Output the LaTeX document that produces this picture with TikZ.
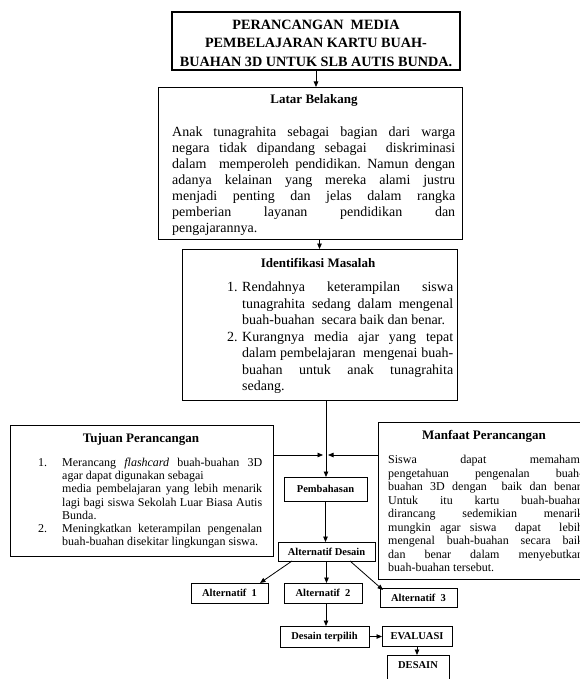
\documentclass[tikz,border=0pt]{standalone}
\usepackage{fontspec}
\setmainfont{Liberation Serif}
\usetikzlibrary{arrows.meta}
\frenchspacing
\newcommand\jset{\tolerance=10000\pretolerance=-1\hbadness=10000\hyphenpenalty=10000\exhyphenpenalty=10000\frenchspacing\parindent=0pt\parskip=0pt}
\newcommand\bodybig{\fontsize{14}{16}\selectfont\jset}
\newcommand\bodyid{\fontsize{14}{16.5}\selectfont\jset}
\newcommand\bodysmall{\fontsize{12}{13.2}\selectfont\jset}
\newcommand\bodyman{\fontsize{12}{13.5}\selectfont\jset}
\tikzset{
  box/.style={draw, line width=0.8pt, inner sep=0pt, outer sep=0pt},
  txt/.style={inner sep=0pt, anchor=north west, align=justify},
  num/.style={inner sep=0pt, anchor=north west},
  head/.style={inner sep=0pt, font=\fontsize{13}{15}\selectfont\bfseries},
  lbl/.style={inner sep=0pt, font=\fontsize{10.5}{12}\selectfont\bfseries},
  arr/.style={-{Triangle[length=5.5pt,width=4.5pt]}, line width=0.8pt}
}
\begin{document}
\begin{tikzpicture}[x=1pt,y=-1pt]
\useasboundingbox (0,0) rectangle (579,679);
\fill[white] (0,0) rectangle (579,679);

% boxes
\node[box, line width=1.1pt, minimum width=288pt, minimum height=58pt] (title) at (316,41) {};
\node[box, minimum width=304pt, minimum height=152pt] (latar) at (310,163) {};
\node[box, minimum width=275pt, minimum height=151pt] (ident) at (319.5,324.5) {};
\node[box, minimum width=263pt, minimum height=131pt] (tujuan) at (141.5,490.5) {};
\node[box, minimum width=222pt, minimum height=157pt] (manfaat) at (489,500.5) {};
\node[box, minimum width=83pt, minimum height=24pt] (pemb) at (325.5,489) {};
\node[box, minimum width=97pt, minimum height=19pt] (altd) at (326.5,551.5) {};
\node[box, minimum width=77pt, minimum height=20pt] (alt1) at (229.5,593) {};
\node[box, minimum width=78pt, minimum height=20pt] (alt2) at (323,593) {};
\node[box, minimum width=77pt, minimum height=19pt] (alt3) at (418.5,597.5) {};
\node[box, minimum width=89pt, minimum height=21pt] (dt) at (324.5,636.5) {};
\node[box, minimum width=70pt, minimum height=20pt] (eval) at (417,636) {};
\node[box, minimum width=62pt, minimum height=35pt] (desain) at (418,672.5) {};

% title text
\node[inner sep=0pt, align=center, font=\fontsize{14.2}{18.5}\selectfont\bfseries] (titletxt) at (316,43)
  {PERANCANGAN\ \ MEDIA\\PEMBELAJARAN KARTU BUAH-\\BUAHAN 3D UNTUK SLB AUTIS BUNDA.};

% Latar Belakang
\node[head] (latarhead) at (314,100) {Latar Belakang};
\node[txt, text width=283pt, font=\bodybig] (latartxt) at (172,125)
  {\strut Anak tunagrahita sebagai bagian dari warga\linebreak
   negara tidak dipandang sebagai\ \ diskriminasi\linebreak
   dalam\ \ memperoleh pendidikan. Namun dengan\linebreak
   adanya kelainan yang mereka alami justru\linebreak
   menjadi penting dan jelas dalam rangka\linebreak
   pemberian layanan pendidikan dan\linebreak
   pengajarannya.};

% Identifikasi Masalah
\node[head] (identhead) at (318,263) {Identifikasi Masalah};
\node[num, font=\bodyid] (idn1) at (227,280) {\strut 1.};
\node[txt, text width=211pt, font=\bodyid] (idt1) at (242,280)
  {\strut Rendahnya keterampilan siswa\linebreak
   tunagrahita sedang dalam mengenal\linebreak
   buah-buahan\ \ secara baik dan benar.};
\node[num, font=\bodyid] (idn2) at (227,329.5) {\strut 2.};
\node[txt, text width=211pt, font=\bodyid] (idt2) at (242,329.5)
  {\strut Kurangnya media ajar yang tepat\linebreak
   dalam pembelajaran\ \ mengenai buah-\linebreak
   buahan untuk anak tunagrahita\linebreak
   sedang.};

% Tujuan Perancangan
\node[head] (tujhead) at (141,439) {Tujuan Perancangan};
\node[num, font=\bodysmall] (tjn1) at (38,457) {\strut 1.};
\node[txt, text width=200pt, font=\bodysmall] (tjt1) at (62,457)
  {\strut Merancang \textit{flashcard} buah-buahan 3D\linebreak
   agar dapat digunakan sebagai\newline
   media pembelajaran yang lebih menarik\linebreak
   lagi bagi siswa Sekolah Luar Biasa Autis\linebreak
   Bunda.};
\node[num, font=\bodysmall] (tjn2) at (38,523) {\strut 2.};
\node[txt, text width=200pt, font=\bodysmall] (tjt2) at (62,523)
  {\strut Meningkatkan keterampilan pengenalan\linebreak
   buah-buahan disekitar lingkungan siswa.};

% Manfaat Perancangan
\node[head] (manhead) at (484,436) {Manfaat Perancangan};
\node[txt, text width=195pt, font=\bodyman] (mantxt) at (388,454)
  {\strut Siswa dapat memahami\linebreak
   pengetahuan pengenalan buah-\linebreak
   buahan 3D dengan\ \ baik dan benar.\linebreak
   Untuk itu kartu buah-buahan\linebreak
   dirancang sedemikian menarik\linebreak
   mungkin agar siswa\ \ dapat\ \ lebih\linebreak
   mengenal buah-buahan secara baik\linebreak
   dan benar dalam menyebutkan\linebreak
   buah-buahan tersebut.};

% small labels
\node[lbl] (pembtxt) at (pemb) {Pembahasan};
\node[lbl] (altdtxt) at (altd) {Alternatif Desain};
\node[lbl] (alt1txt) at (alt1) {Alternatif\ \ 1};
\node[lbl] (alt2txt) at (alt2) {Alternatif\ \ 2};
\node[lbl] (alt3txt) at (alt3) {Alternatif\ \ 3};
\node[lbl] (dttxt) at (dt) {Desain terpilih};
\node[lbl] (evaltxt) at (eval) {EVALUASI};
\node[lbl] (desaintxt) at (418,665) {DESAIN};

% connectors
\coordinate (j) at (326,455);
\draw[arr] (title.south) -- (title.south |- latar.north);
\draw[arr] (latar.south -| ident.north) -- (ident.north);
\draw[arr] (ident.south -| j) -- (j |- pemb.north);
\draw[arr] (tujuan.east |- j) -- ([xshift=-3pt]j);
\draw[arr] (manfaat.west |- j) -- ([xshift=2pt]j);
\draw[arr] (pemb.south) -- (pemb.south |- altd.north);
\draw[arr] ([xshift=-34.5pt]altd.south) -- ([xshift=30.5pt]alt1.north);
\draw[arr] (altd.south) -- (altd.south |- alt2.north);
\draw[arr] ([xshift=23.5pt]altd.south) -- ([xshift=3pt,yshift=-2pt]alt3.north west);
\draw[arr] ([xshift=3pt]alt2.south) -- ([xshift=3pt]alt2.south |- dt.north);
\draw[arr] (dt.east) -- (dt.east -| eval.west);
\draw[arr] (eval.south) -- (eval.south |- desain.north);
\end{tikzpicture}
\end{document}
